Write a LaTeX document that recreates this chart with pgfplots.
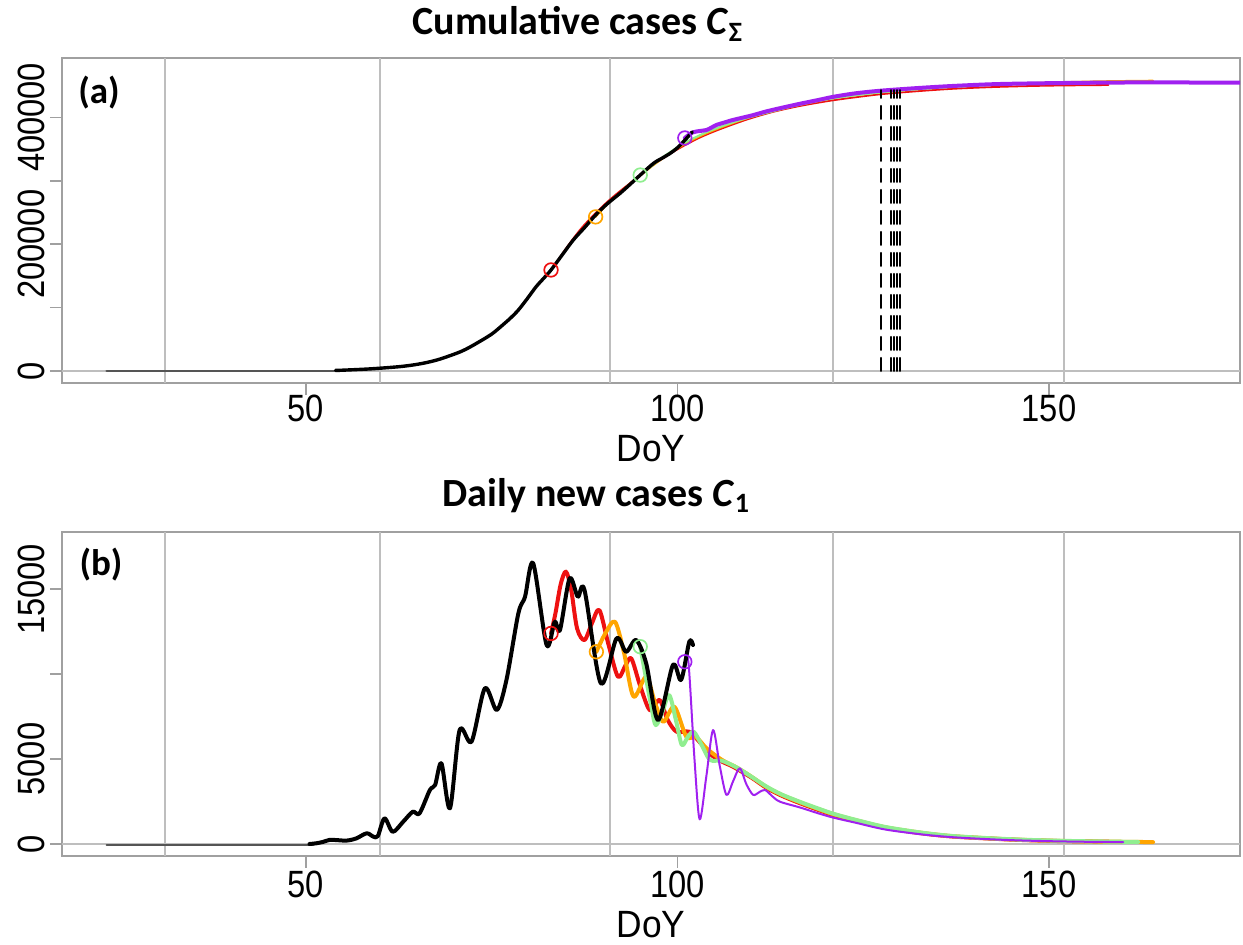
\documentclass[border=0pt]{standalone}
\usepackage{pgfplots}
\pgfplotsset{compat=1.18}
\usepackage{fontspec}
\setmainfont{Liberation Sans}
\newfontfamily\calibri{Carlito}
\definecolor{cred}{HTML}{EE1111}
\definecolor{corange}{HTML}{FFA500}
\definecolor{cgreen}{HTML}{90EE90}
\definecolor{cpurple}{HTML}{A020F0}
\definecolor{gridgray}{HTML}{BEBEBE}
\definecolor{boxgray}{HTML}{A0A0A0}
\definecolor{flatgray}{HTML}{555555}
\newcommand{\nar}[1]{\scalebox{0.86}[1]{#1}}
\begin{document}
\begin{tikzpicture}[x=1pt,y=1pt]
\useasboundingbox (0,0) rectangle (621.5,472.5);
\pgfplotsset{
  myaxis/.style={
    scale only axis, width=589pt, anchor=south west,
    xmin=17.2, xmax=175.7,
    xtick={50,100,150}, xticklabels={\nar{50},\nar{100},\nar{150}},
    xtick pos=bottom, ytick pos=left,
    tick align=outside, major tick length=6pt,
    axis line style={draw=boxgray, line width=0.8pt},
    tick style={draw=boxgray, line width=0.8pt},
    extra x ticks={31,60,91,121,152}, extra x tick labels={},
    extra x tick style={grid=major, tick style={draw=none}},
    extra y ticks={0}, extra y tick labels={},
    extra y tick style={grid=major, tick style={draw=none}},
    grid style={draw=gridgray, line width=1pt},
    ticklabel style={font=\fontsize{19}{22}\selectfont, inner sep=0pt},
    yticklabel style={rotate=90, anchor=south, outer sep=2.5pt},
    xticklabel style={anchor=north},
    xlabel={\scalebox{0.93}[1]{DoY}},
    xlabel style={font=\fontsize{19}{22}\selectfont, inner sep=0pt, at={(axis description cs:0.5,0)}, anchor=center},
    every axis plot/.append style={line join=round, line cap=round},
  }
}
% ---------- panel (a)
\begin{axis}[myaxis, at={(31pt,281pt)}, height=162.5pt,
  ymin=-19000, ymax=493700,
  ytick={0,100000,200000,300000,400000}, yticklabels={\nar{0},,\nar{200000},,\nar{400000}},
  xlabel style={yshift=-32.75pt},
  scaled y ticks=false]
\addplot[cred, line width=0.9pt, smooth, tension=0.5] coordinates {
(83,159300)(84,176000)(85,193000)(86,209000)(87,224000)(88,237000)(89,249000)(90.5,266000)(92,281000)(93.5,295000)(95,309000)(96.5,323000)(98,335000)(99.5,346000)(101,356000)(103,368000)(105,378000)(107.5,389000)(110,399000)(113,409000)(116.5,418000)(121,427000)(127,436000)(132,441000)(137,445000)(143,448000)(150,450000)(158,451000)};
\addplot[corange, line width=0.9pt, smooth, tension=0.5] coordinates {
(89,243000)(90.5,262000)(92,278000)(93.5,294000)(95,308000)(96.5,322000)(98,335000)(99.5,347000)(101,358000)(103,370000)(105,380000)(107.5,391000)(110,401000)(113,411000)(116.5,420000)(121,430000)(127,439000)(132,444000)(137,448000)(143,452000)(150,455000)(157,457000)(164,458000)};
\addplot[cgreen, line width=1pt, smooth, tension=0.5] coordinates {
(95,309000)(96.5,323000)(98,337000)(99.5,349000)(101,360000)(102.5,369000)(104,377000)(106,386000)(108,394000)(110,401000)(113,410000)(116.5,420000)(121,430000)(127,439000)(132,444000)(137,448000)(143,451500)(150,454000)(157,455500)(163,456000)};
\addplot[cpurple, line width=2pt, smooth, tension=0.5] coordinates {
(101,367500)(102,376000)(103,378500)(103.9,380000)(104.6,384000)(105.25,388000)(106.5,392500)(107.5,396000)(110,403000)(112,409500)(114,415000)(116.5,421500)(119,427500)(121,432500)(124,438000)(127.3,442000)(132,446000)(137,449500)(143,452500)(150.6,454000)(160,455000)(170,455000)(176,455000)};
\addplot[only marks, mark=o, mark size=3.4pt, mark options={draw=cred, line width=0.85pt}] coordinates {(83,159300)};
\addplot[only marks, mark=o, mark size=3.4pt, mark options={draw=corange, line width=0.85pt}] coordinates {(89,243000)};
\addplot[only marks, mark=o, mark size=3.4pt, mark options={draw=cgreen, line width=0.85pt}] coordinates {(95,309000)};
\addplot[only marks, mark=o, mark size=3.4pt, mark options={draw=cpurple, line width=0.85pt}] coordinates {(101,367500)};
\addplot[flatgray, line width=1.2pt] coordinates {(23.2,0)(55,0)};
\addplot[black, line width=1.7pt, smooth, tension=0.5] coordinates {
(54,800)(55,1200)(58,2800)(60,4300)(62.65,6800)(64.5,9500)(66.2,13100)(68,18500)(70.3,27900)(71.5,34000)(73,43700)(75,58000)(76.55,73000)(77.6,84000)(78.6,96000)(79.8,114000)(81,133000)(82,146000)(83,159300)(84.5,183000)(86,206600)(87.5,226000)(89,246000)(90.5,263000)(92.3,280300)(93.7,295000)(95,309000)(96.8,327600)(98,336000)(99,343000)(100,352000)(101,364000)(102,377000)};
\addplot[black, line width=1.1pt, dash pattern=on 6.5pt off 4pt] coordinates {(127.4,0)(127.4,443000)};
\addplot[black, line width=1.1pt, dash pattern=on 6.5pt off 4pt] coordinates {(128.7,0)(128.7,443000)};
\addplot[black, line width=1.1pt, dash pattern=on 6.5pt off 4pt] coordinates {(129.1,0)(129.1,443000)};
\addplot[black, line width=1.1pt, dash pattern=on 6.5pt off 4pt] coordinates {(129.5,0)(129.5,443000)};
\addplot[black, line width=1.1pt, dash pattern=on 6.5pt off 4pt] coordinates {(129.9,0)(129.9,443000)};
\end{axis}
% ---------- panel (b)
\begin{axis}[myaxis, at={(31pt,44.5pt)}, height=162pt,
  ymin=-707, ymax=18375,
  ytick={0,5000,10000,15000}, yticklabels={\nar{0},\nar{5000},,\nar{15000}},
  xlabel style={yshift=-34.25pt},
  xticklabel style={yshift=-1.5pt},
  scaled y ticks=false]
\addplot[cred, line width=2pt, smooth, tension=0.5] coordinates {
(83,12400)(83.6,13600)(84.3,15300)(85.0,16040)(85.7,15000)(86.5,12700)(87.5,12010)(88.5,13000)(89.5,13780)(90.7,11800)(92.0,9850)(93.0,10500)(93.8,10930)(95.0,9300)(96.3,7880)(97.6,8480)(98.7,7300)(99.9,6610)(101.6,6610)(103.0,6000)(104.4,5300)(106,4850)(107.5,4550)(110,3900)(112,3300)(114,2850)(116.5,2400)(119,2000)(121,1700)(124,1350)(128,950)(133,620)(137,440)(142,320)(146,240)(150.6,180)(155,150)(158,140)};
\addplot[corange, line width=2pt, smooth, tension=0.5] coordinates {
(89.1,11320)(90.3,12400)(91.6,13090)(92.8,11300)(94.1,8680)(95.8,9850)(97,8300)(98.1,7200)(99.6,8080)(101.2,6320)(102.5,6300)(104,5600)(106,4950)(108,4500)(110,3950)(112,3350)(114,2900)(116.5,2450)(119,2050)(121,1750)(124,1400)(128,980)(133,650)(137,460)(142,330)(146,250)(150.6,190)(155,155)(160,130)(164,110)};
\addplot[cgreen, line width=2pt, smooth, tension=0.5] coordinates {
(95,11620)(96.5,8080)(97.1,7000)(98.0,7800)(98.9,8770)(99.8,7300)(100.6,5830)(101.4,6300)(102.2,6610)(103.3,5800)(104.4,4950)(106,4900)(108,4500)(110,3950)(112,3380)(114,2920)(116.5,2480)(119,2080)(121,1780)(124,1420)(128,1000)(133,660)(137,470)(142,340)(146,260)(150.6,200)(155,160)(162,120)};
\addplot[cpurple, line width=1pt, smooth, tension=0.5] coordinates {
(101,10730)(101.5,10640)(102.3,5000)(103.0,1450)(103.9,4000)(104.8,6710)(105.7,4600)(106.6,2890)(107.5,3700)(108.4,4460)(109.3,3500)(110.2,2890)(111.0,3050)(111.8,3180)(112.8,2800)(113.8,2490)(116.5,2150)(119,1800)(121,1550)(124,1250)(128,850)(133,560)(137,400)(142,280)(146,210)(150.6,160)(155,130)(160,110)};
\addplot[only marks, mark=o, mark size=3.4pt, mark options={draw=cred, line width=0.85pt}] coordinates {(83,12400)};
\addplot[only marks, mark=o, mark size=3.4pt, mark options={draw=corange, line width=0.85pt}] coordinates {(89.1,11320)};
\addplot[only marks, mark=o, mark size=3.4pt, mark options={draw=cgreen, line width=0.85pt}] coordinates {(95,11620)};
\addplot[only marks, mark=o, mark size=3.4pt, mark options={draw=cpurple, line width=0.85pt}] coordinates {(101,10730)};
\addplot[flatgray, line width=1pt] coordinates {(23.2,-80)(51,-80)};
\addplot[black, line width=2pt, smooth, tension=0.5] coordinates {
(50.5,0)(51.4,40)(52.3,120)(53.2,240)(54.1,230)(55.5,200)(56.8,330)(58.2,630)(59.1,430)(59.7,470)(60.6,1510)(61.7,720)(63.1,1310)(64.4,1900)(65.3,1800)(66.7,3180)(67.4,3470)(68.25,4750)(69.4,2100)(70.7,6710)(72.3,6030)(74.1,9170)(75.7,7890)(77.0,9660)(78.6,13580)(79.5,14560)(80.6,16530)(82.4,11720)(83.5,13090)(84.2,12600)(85.5,15640)(86.6,14560)(87.5,14960)(89.7,9460)(91.8,12100)(93.1,11320)(94.45,12010)(95.8,10640)(97.4,7300)(99.4,10540)(100.5,9660)(101.6,11910)(102.1,11720)};
\end{axis}
% ---------- titles and panel labels
\node[anchor=base west, inner sep=0pt, font=\calibri\bfseries\fontsize{20}{24}\selectfont] at (206,455) {Cumulative cases \textit{C}\textsubscript{Σ}};
\node[anchor=base west, inner sep=0pt, font=\calibri\bfseries\fontsize{20}{24}\selectfont] at (221,219.2) {Daily new cases \textit{C}\textsubscript{1}};
\node[inner sep=0pt, font=\calibri\bfseries\fontsize{18.5}{22}\selectfont] at (49.5,426) {(a)};
\node[inner sep=0pt, font=\calibri\bfseries\fontsize{18.5}{22}\selectfont] at (50.5,190) {(b)};
\end{tikzpicture}
\end{document}
